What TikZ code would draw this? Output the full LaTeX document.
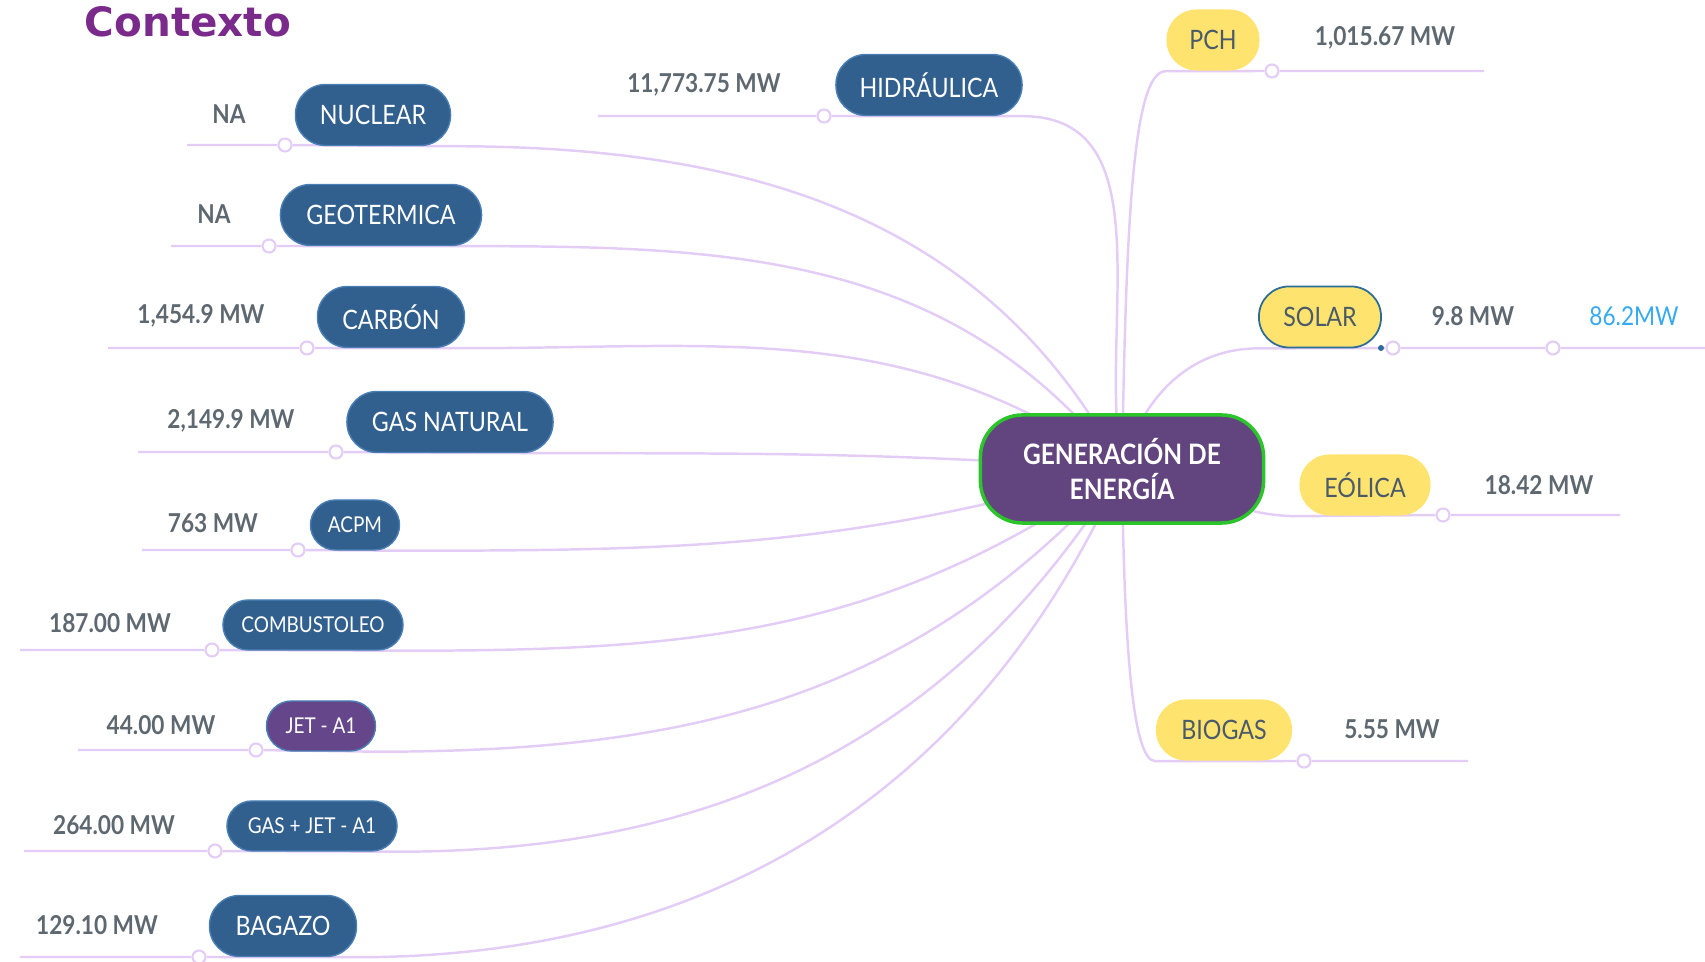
\documentclass[tikz,border=0pt]{standalone}
\usepackage{fontspec}
\setmainfont{Lato}
\newfontfamily\mapfont[FakeStretch=0.87]{Lato}
\newfontfamily\headfont{DejaVu Sans}
\pgfdeclarelayer{back}
\pgfsetlayers{back,main}

\begin{document}
\begin{tikzpicture}[x=0.01cm,y=-0.01cm,
  box/.style={rectangle,rounded corners=0.3cm,minimum height=0.61cm,inner xsep=0pt,fill=cbox,draw=cboxl,line width=0.4pt,text=white,font=\mapfont\fontsize{7.6}{9}\selectfont},
  smallbox/.style={box,rounded corners=0.25cm,minimum height=0.5cm,font=\mapfont\fontsize{6.2}{8}\selectfont},
  yelbox/.style={box,fill=cyel,draw=none,text=cyt},
  genbox/.style={rectangle,rounded corners=0.42cm,minimum width=2.83cm,minimum height=1.08cm,fill=cgen,draw=cgreen,line width=1pt,text=white,align=center,font=\mapfont\bfseries\fontsize{8}{10}\selectfont},
  val/.style={text=cval,font=\mapfont\bfseries\fontsize{7.4}{9}\selectfont},
  dot/.style={circle,draw=clink,fill=white,line width=0.6pt,inner sep=0pt,minimum size=0.13cm},
  link/.style={draw=clink,line width=0.7pt}]
\definecolor{cbox}{HTML}{31608F}
\definecolor{cboxl}{HTML}{4A7FB5}
\definecolor{cboxsel}{HTML}{2C6C96}
\definecolor{cjet}{HTML}{66468A}
\definecolor{cgen}{HTML}{62447F}
\definecolor{cgreen}{HTML}{2BC42B}
\definecolor{cyel}{HTML}{FFE36F}
\definecolor{cyt}{HTML}{4A5A68}
\definecolor{cval}{HTML}{5E6870}
\definecolor{cblue}{HTML}{35A9F2}
\definecolor{clink}{HTML}{E3CDF7}
\definecolor{ctitle}{HTML}{7A2A8B}
\useasboundingbox (0,0) rectangle (1705,962);
%
\node[text=ctitle,font=\headfont\bfseries\fontsize{11.5}{13}\selectfont] (ttl) at (188,22) {Contexto};
\node[genbox] (gen) at (1122,469) {GENERACIÓN DE\\ENERGÍA};
%
\node[box,minimum width=1.86cm] (hid) at (929,85) {HIDRÁULICA};
\node[val] (hidv) at (704,85) {11,773.75 MW};
\node[dot] (hidd) at (824,116) {};
\coordinate (hidl) at (598,116);
\node[box,minimum width=1.55cm] (nuc) at (373,115) {NUCLEAR};
\node[val] (nucv) at (229,114) {NA};
\node[dot] (nucd) at (285,145) {};
\coordinate (nucl) at (187,145);
\node[box,minimum width=2.01cm] (geo) at (381,215) {GEOTERMICA};
\node[val] (geov) at (214,214) {NA};
\node[dot] (geod) at (269,246) {};
\coordinate (geol) at (171,246);
\node[box,minimum width=1.47cm] (car) at (391,317) {CARBÓN};
\node[val] (carv) at (201,316) {1,454.9 MW};
\node[dot] (card) at (307,348) {};
\coordinate (carl) at (108,348);
\node[box,minimum width=2.06cm] (gnat) at (450,422) {GAS NATURAL};
\node[val] (gnatv) at (231,421) {2,149.9 MW};
\node[dot] (gnatd) at (336,452) {};
\coordinate (gnatl) at (138,452);
\node[smallbox,minimum width=0.89cm] (acpm) at (355,525) {ACPM};
\node[val] (acpmv) at (213,523) {763 MW};
\node[dot] (acpmd) at (298,550) {};
\coordinate (acpml) at (142,550);
\node[smallbox,minimum width=1.80cm] (comb) at (313,625) {COMBUSTOLEO};
\node[val] (combv) at (110,623) {187.00 MW};
\node[dot] (combd) at (212,650) {};
\coordinate (combl) at (20,650);
\node[smallbox,fill=cjet,minimum width=1.09cm] (jet) at (321,726) {JET - A1};
\node[val] (jetv) at (161,725) {44.00 MW};
\node[dot] (jetd) at (256,750) {};
\coordinate (jetl) at (78,750);
\node[smallbox,minimum width=1.70cm] (gjet) at (312,826) {GAS + JET - A1};
\node[val] (gjetv) at (114,825) {264.00 MW};
\node[dot] (gjetd) at (215,851) {};
\coordinate (gjetl) at (24,851);
\node[box,minimum width=1.47cm] (bag) at (283,926) {BAGAZO};
\node[val] (bagv) at (97,925) {129.10 MW};
\node[dot] (bagd) at (199,957) {};
\coordinate (bagl) at (20,957);
%
\node[yelbox,minimum width=0.93cm] (pch) at (1213,40) {PCH};
\node[val] (pchv) at (1385,38) {1,015.67 MW};
\node[dot] (pchd) at (1272,71) {};
\coordinate (pchr) at (1484,71);
\node[yelbox,draw=cboxsel,line width=0.5pt,minimum width=1.22cm] (sol) at (1320,317) {SOLAR};
\node[circle,fill=cboxsel,inner sep=0pt,minimum size=0.06cm] (solh) at (1381,348) {};
\node[val] (solv) at (1473,316) {9.8 MW};
\node[dot] (sold) at (1393,348) {};
\node[val,text=cblue,font=\mapfont\fontsize{7.4}{9}\selectfont] (solw) at (1634,316) {86.2MW};
\node[dot] (solwd) at (1553,348) {};
\coordinate (solr) at (1705,348);
\node[yelbox,minimum width=1.31cm] (eol) at (1365,485) {EÓLICA};
\node[val] (eolv) at (1539,485) {18.42 MW};
\node[dot] (eold) at (1443,515) {};
\coordinate (eolr) at (1620,515);
\node[yelbox,minimum width=1.36cm] (bio) at (1224,730) {BIOGAS};
\node[val] (biov) at (1392,729) {5.55 MW};
\node[dot] (biod) at (1304,761) {};
\coordinate (bior) at (1468,761);
%
\begin{pgfonlayer}{back}
\draw[link] (hidl) -- (hidd) -- (hid.south east) to[out=0,in=100] (gen.center);
\draw[link] (nucl) -- (nucd) -- (nuc.south east) to[out=0,in=118] (gen.center);
\draw[link] (geol) -- (geod) -- (geo.south east) to[out=0,in=128] (gen.center);
\draw[link] (carl) -- (card) -- (car.south east) to[out=0,in=145] (gen.center);
\draw[link] (gnatl) -- (gnatd) -- (gnat.south east) to[out=0,in=176] (gen.center);
\draw[link] (acpml) -- (acpmd) -- (acpm.south east) to[out=0,in=196] (gen.center);
\draw[link] (combl) -- (combd) -- (comb.south east) to[out=0,in=215] (gen.center);
\draw[link] (jetl) -- (jetd) -- (jet.south east) to[out=0,in=228] (gen.center);
\draw[link] (gjetl) -- (gjetd) -- (gjet.south east) to[out=0,in=238] (gen.center);
\draw[link] (bagl) -- (bagd) -- (bag.south east) to[out=0,in=246] (gen.center);
\draw[link] (gen.center) .. controls (1126,230) and (1132,71) .. (pch.south west) -- (pchd) -- (pchr);
\draw[link] (gen.center) to[out=75,in=180] (sol.south west) -- (sold) -- (solwd) -- (solr);
\draw[link] (gen.center) to[out=-10,in=180] (eol.south west) -- (eold) -- (eolr);
\draw[link] (gen.center) .. controls (1124,640) and (1132,761) .. (bio.south west) -- (biod) -- (bior);
\end{pgfonlayer}
%
\end{tikzpicture}
\end{document}
